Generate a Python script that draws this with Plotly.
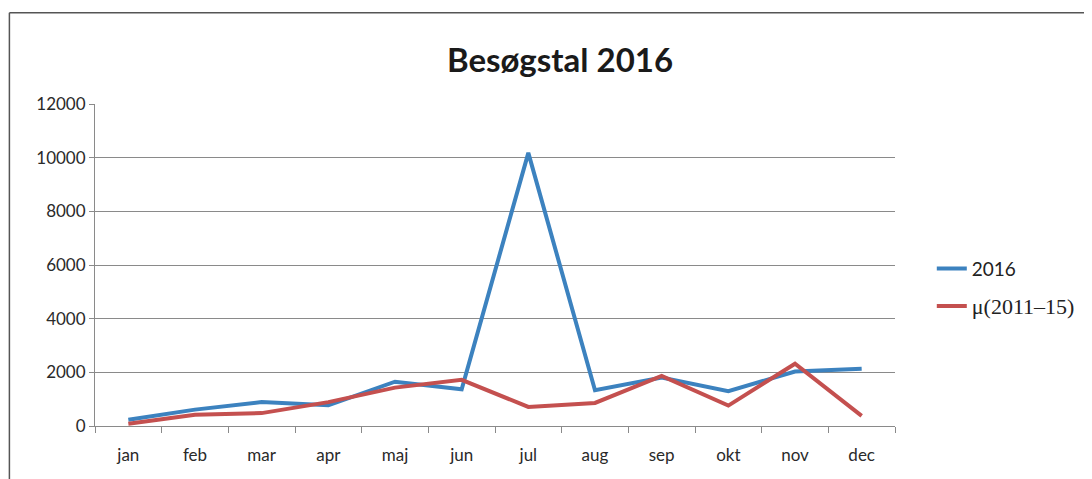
import plotly.graph_objects as go

months = ["jan", "feb", "mar", "apr", "maj", "jun", "jul", "aug", "sep", "okt", "nov", "dec"]
visits_2016 = [230, 610, 890, 770, 1650, 1370, 10180, 1330, 1810, 1300, 2030, 2130]
mean_2011_15 = [80, 420, 480, 890, 1430, 1720, 710, 860, 1870, 760, 2320, 380]
y_ticks = [0, 2000, 4000, 6000, 8000, 10000, 12000]
y_tick_labels = ["0", "2000", "4000", "6000", "8000", "10000", "12000"]

fig = go.Figure()
fig.add_trace(go.Scatter(x=months, y=visits_2016, mode="lines", name="2016",
                         line=dict(color="#3C82BF", width=4), legendgroup="a"))
fig.add_trace(go.Scatter(x=months, y=mean_2011_15, mode="lines",
                         name="<span style='font-family:\"Liberation Serif\";font-size:22px'>μ(2011–15)</span>",
                         line=dict(color="#C4504F", width=4), legendgroup="b"))

fig.update_layout(
    width=1092, height=479,
    margin=dict(l=87, r=205, t=96, b=61),
    paper_bgcolor="white", plot_bgcolor="white",
    font=dict(family="Lato, Open Sans, sans-serif", size=17, color="#2a2a2a"),
    title=dict(text="<b>Besøgstal 2016</b>", x=0.5055, xanchor="center", y=0.891, yanchor="middle",
               font=dict(family="Lato, Open Sans, sans-serif", size=33, color="#1a1a1a")),
    showlegend=True,
    legend=dict(x=1.046, y=0.43, xanchor="left", yanchor="middle", font=dict(size=19, color="#222"),
                traceorder="grouped", tracegroupgap=10, bgcolor="rgba(0,0,0,0)"),
    xaxis=dict(type="category", range=[-0.5, 11.5], showgrid=False, showline=True,
               linecolor="#8a8a8a", linewidth=1, ticks="outside", tickson="boundaries",
               ticklen=6, tickcolor="#8a8a8a", zeroline=False, tickfont=dict(size=17),
               ticklabelstandoff=14),
    yaxis=dict(range=[0, 12000], tickvals=y_ticks, ticktext=y_tick_labels, showgrid=True,
               gridcolor="#8a8a8a", gridwidth=1, automargin=False,
               showline=True, linecolor="#8a8a8a", linewidth=1, ticks="outside", ticklen=5,
               tickcolor="#8a8a8a", zeroline=False, tickfont=dict(size=17)),
    shapes=[
        dict(type="line", xref="paper", yref="paper", x0=-0.107, x1=1.3, y0=1.283, y1=1.283,
             line=dict(color="#555", width=1.5)),
        dict(type="line", xref="paper", yref="paper", x0=-0.107, x1=-0.107, y0=1.283, y1=-0.2,
             line=dict(color="#555", width=1.5)),
    ],
)

fig.write_html("out.html")
